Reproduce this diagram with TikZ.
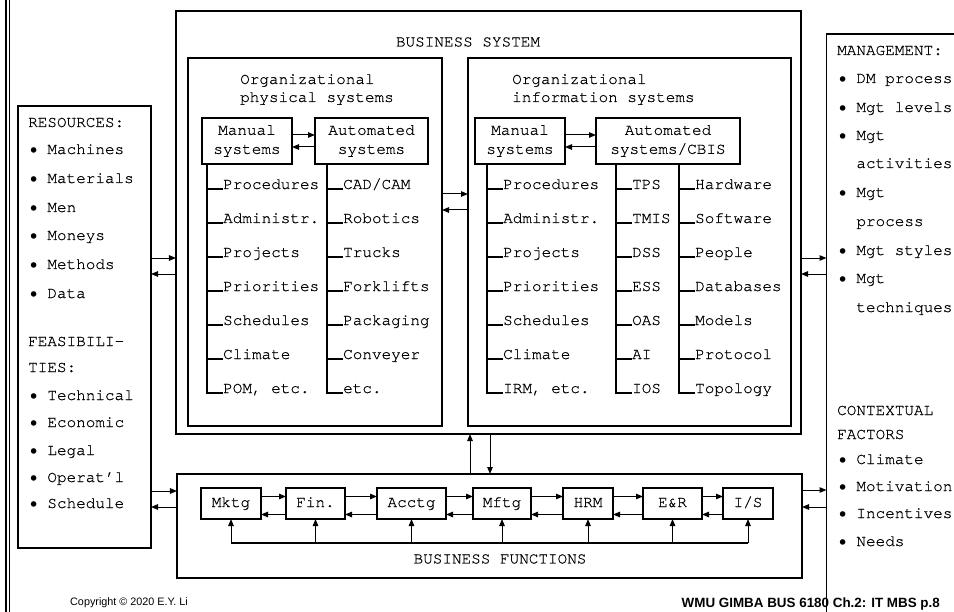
\documentclass[tikz,border=0pt]{standalone}
\usepackage{fontspec}
\setmainfont{Liberation Sans}
\setmonofont[FakeBold=0.6]{TeX Gyre Cursor}
\newfontfamily\dotfont{DejaVu Sans}
\newcommand{\bul}{\makebox[9.6bp][l]{\raisebox{-3.5bp}{\dotfont\fontsize{19bp}{19bp}\selectfont•}}}
\usetikzlibrary{arrows.meta,positioning}
\tikzset{
  frame/.style={draw,line width=1.2bp,inner sep=0pt,outer sep=0pt},
  mono/.style={font=\ttfamily\fontsize{16bp}{19bp}\selectfont,inner sep=0pt},
  txt/.style={mono,anchor=base west},
  sysbox/.style={frame,mono,align=center,minimum height=46bp},
  fbox/.style={frame,mono,minimum height=31bp,text height=10bp,text depth=3bp},
  trunk/.style={line width=1.8bp},
  flow/.style={line width=1bp,-{Triangle[length=7bp,width=5.5bp]}}
}
\begin{document}
\begin{tikzpicture}[x=1bp,y=-1bp]
\useasboundingbox (0,0) rectangle (954,612);
% slide edge
\draw[line width=2bp] (5.5,0) -- (5.5,612);
\draw[line width=1bp] (9.5,0) -- (9.5,612);

% business system
\node(bsys) at (488.5,222.5)[frame,minimum width=625bp,minimum height=423bp]{};
\node(bsyst) at (468,42)[mono]{BUSINESS SYSTEM};
\node(phys) at (315,242)[frame,minimum width=254bp,minimum height=368bp]{};
\node(info) at (629.5,242)[frame,minimum width=323bp,minimum height=368bp]{};
\node(physt) at (240,74)[mono,anchor=north west,align=left,font=\ttfamily\fontsize{16bp}{18bp}\selectfont]{Organizational\\physical systems};
\node(infot) at (512,74)[mono,anchor=north west,align=left,font=\ttfamily\fontsize{16bp}{18bp}\selectfont]{Organizational\\information systems};

\node(pman) at (247,141)[sysbox,minimum width=90bp]{Manual\\systems};
\node(paut) at (371.5,141)[sysbox,minimum width=113bp]{Automated\\systems};
\node(iman) at (520,141)[sysbox,minimum width=90bp]{Manual\\systems};
\node(iaut) at (668,141)[sysbox,minimum width=144bp]{Automated\\systems/CBIS};

% trees
\coordinate(pmt) at (207,164);
\coordinate(pat) at (327,164);
\coordinate(imt) at (487,164);
\coordinate(ict) at (616,164);
\coordinate(iht) at (679,164);
\foreach \t [count=\i] in {Procedures,Administr.,Projects,Priorities,Schedules,Climate,{POM, etc.}}{
  \node(pm\i) at (223,155+34*\i)[txt]{\t};
  \draw[trunk] (pmt) |- (pm\i.base west);
}
\foreach \t [count=\i] in {CAD/CAM,Robotics,Trucks,Forklifts,Packaging,Conveyer,etc.}{
  \node(pa\i) at (343,155+34*\i)[txt]{\t};
  \draw[trunk] (pat) |- (pa\i.base west);
}
\foreach \t [count=\i] in {Procedures,Administr.,Projects,Priorities,Schedules,Climate,{IRM, etc.}}{
  \node(im\i) at (503,155+34*\i)[txt]{\t};
  \draw[trunk] (imt) |- (im\i.base west);
}
\foreach \t [count=\i] in {TPS,TMIS,DSS,ESS,OAS,AI,IOS}{
  \node(ic\i) at (632,155+34*\i)[txt]{\t};
  \draw[trunk] (ict) |- (ic\i.base west);
}
\foreach \t [count=\i] in {Hardware,Software,People,Databases,Models,Protocol,Topology}{
  \node(ih\i) at (695,155+34*\i)[txt]{\t};
  \draw[trunk] (iht) |- (ih\i.base west);
}

% resources and feasibilities
\node(res) at (84.5,327)[frame,minimum width=133bp,minimum height=442bp]{};
\foreach \t/\y [count=\i] in {RESOURCES:/127,\bul{} Machines/154,\bul{} Materials/183,\bul{} Men/212,\bul{} Moneys/240,
    \bul{} Methods/269,\bul{} Data/298,FEASIBILI-/346,TIES:/372,\bul{} Technical/400,\bul{} Economic/427,
    \bul{} Legal/455,\bul{} Operat’l/482,\bul{} Schedule/508}
  \node(res\i) at (28,\y)[txt]{\t};

% management and contextual factors
\node(mgmt) at (913.25,367)[frame,minimum width=173.5bp,minimum height=666bp]{};
\foreach \t/\y [count=\i] in {MANAGEMENT:/55,\bul{} DM process/83,\bul{} Mgt levels/112,\bul{} Mgt/140,\phantom{\bul} activities/168,
    \bul{} Mgt/197,\phantom{\bul} process/226,\bul{} Mgt styles/255,\bul{} Mgt/283,\phantom{\bul} techniques/312,
    CONTEXTUAL/415,FACTORS/439,\bul{} Climate/464,\bul{} Motivation/491,\bul{} Incentives/518,\bul{} Needs/546}
  \node(mg\i) at (837,\y)[txt]{\t};

% business functions
\node(bfun) at (489.5,526)[frame,minimum width=625bp,minimum height=104bp]{};
\node(bfunt) at (500,559)[mono]{BUSINESS FUNCTIONS};
\node(mktg) at (231,503.5)[fbox,minimum width=60bp]{Mktg};
\node(fin) at (315.5,503.5)[fbox,minimum width=59bp]{Fin.};
\node(acctg) at (411.5,503.5)[fbox,minimum width=69bp]{Acctg};
\node(mftg) at (502,503.5)[fbox,minimum width=58bp]{Mftg};
\node(hrm) at (588,503.5)[fbox,minimum width=50bp]{HRM};
\node(er) at (672.5,503.5)[fbox,minimum width=59bp]{E\&R};
\node(is) at (748,503.5)[fbox,minimum width=50bp]{I/S};
\draw[line width=1.4bp] (mktg.south |- 0,543) -- (is.south |- 0,543);
\foreach \f in {mktg,fin,acctg,mftg,hrm,er,is}
  \draw[flow] (\f.south |- 0,543) -- (\f.south);
\foreach \a/\b in {mktg/fin,fin/acctg,acctg/mftg,mftg/hrm,hrm/er,er/is}{
  \draw[flow] ([yshift=7bp]\a.east) -- ([yshift=7bp]\b.west);
  \draw[flow] ([yshift=-11bp]\b.west) -- ([yshift=-11bp]\a.east);
}

% links between the blocks
\path [flow]
  ([yshift=6bp]pman.east)   edge ([yshift=6bp]paut.west)
  ([yshift=-6bp]paut.west)  edge ([yshift=-6bp]pman.east)
  ([yshift=6bp]iman.east)   edge ([yshift=6bp]iaut.west)
  ([yshift=-6bp]iaut.west)  edge ([yshift=-6bp]iman.east)
  (phys.east |- 0,194)      edge (info.west |- 0,194)
  (info.west |- 0,210)      edge (phys.east |- 0,210)
  (res.east |- 0,258)       edge (bsys.west |- 0,258)
  (bsys.west |- 0,274)      edge (res.east |- 0,274)
  (res.east |- 0,491)       edge (bfun.west |- 0,491)
  (bfun.west |- 0,507)      edge (res.east |- 0,507)
  (bsys.east |- 0,258)      edge (mgmt.west |- 0,258)
  (mgmt.west |- 0,274)      edge (bsys.east |- 0,274)
  (bfun.east |- 0,490)      edge (mgmt.west |- 0,490)
  (mgmt.west |- 0,507)      edge (bfun.east |- 0,507)
  (bfun.north -| 470,0)     edge (bsys.south -| 470,0)
  (bsys.south -| 490,0)     edge (bfun.north -| 490,0);

% footer
\node(copy) at (70,605)[anchor=base west,inner sep=0pt,font=\fontsize{10.8bp}{12bp}\selectfont]{Copyright © 2020 E.Y. Li};
\node(page) at (940,607)[anchor=base east,inner sep=0pt,font=\bfseries\fontsize{13.4bp}{15bp}\selectfont]{WMU GIMBA BUS 6180 Ch.2: IT MBS p.8};
\end{tikzpicture}
\end{document}
